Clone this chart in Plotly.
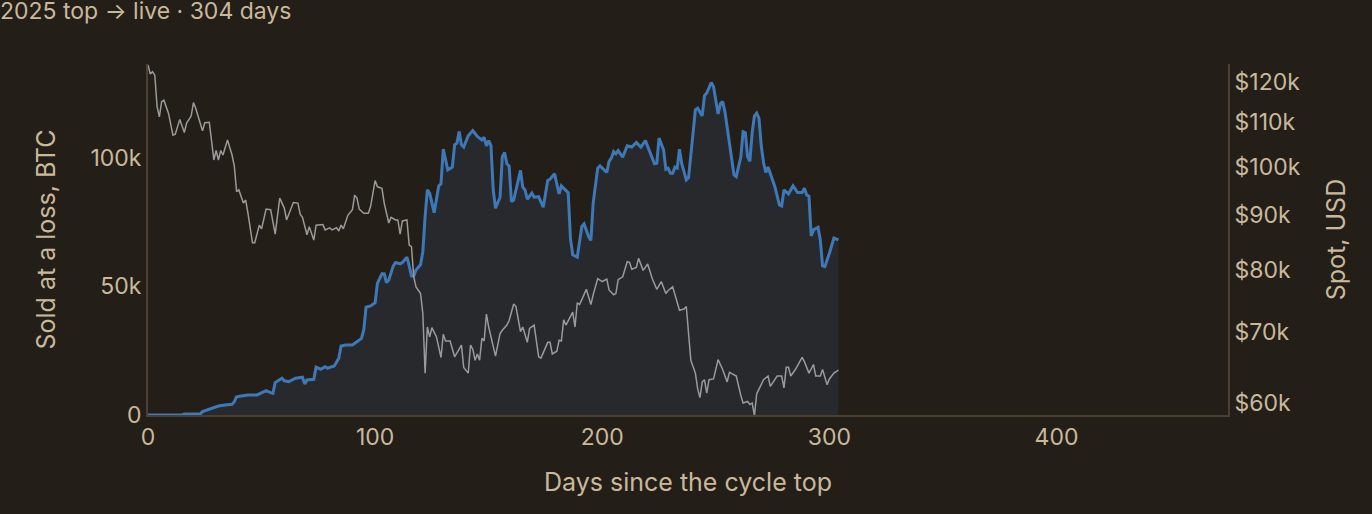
import plotly.graph_objs as go

# Days since the cycle top and BTC sold at a loss (thousands)
loss_days = [0, 15, 16, 23, 24, 27, 29, 31, 34, 37, 38, 39, 41, 44, 48, 50, 52, 54, 55, 56,
             58, 59, 60, 62, 64, 65, 68, 69, 70, 73, 74, 76, 78, 79, 82, 84, 85, 87, 90, 92,
             94, 95, 96, 98, 100, 101, 103, 104, 105, 106, 108, 109, 111, 112, 114, 115, 116, 117, 118, 120,
             121, 122, 123, 124, 126, 128, 129, 130, 132, 134, 135, 136, 137, 138, 139, 141, 143, 145, 147, 148,
             149, 150, 151, 152, 153, 155, 156, 157, 158, 159, 160, 161, 164, 165, 166, 167, 169, 170, 172, 174,
             176, 177, 179, 181, 182, 185, 186, 187, 189, 191, 192, 194, 195, 196, 198, 199, 202, 203, 204, 205,
             206, 207, 209, 211, 213, 215, 217, 219, 221, 223, 224, 225, 227, 228, 229, 230, 231, 232, 233, 234,
             235, 237, 238, 240, 241, 242, 244, 245, 246, 248, 249, 251, 252, 253, 254, 258, 259, 261, 262, 263,
             264, 265, 266, 267, 268, 269, 270, 271, 272, 273, 276, 278, 279, 280, 282, 284, 286, 288, 289, 290,
             291, 292, 293, 295, 296, 297, 298, 300, 302, 304]
loss_k = [0, 0, 0.4, 0.4, 1.3, 2.2, 2.9, 3.5, 3.9, 4.2, 5.2, 7.1, 7.4, 7.8, 7.8, 8.7, 9.5, 8.7, 8.4, 12.6,
          13.6, 14.3, 13.3, 13.0, 13.9, 14.3, 14.7, 12.1, 13.6, 13.9, 18.6, 17.8, 18.8, 18.2, 19.1, 22.1, 26.8, 27.2, 27.2, 28.5,
          29.8, 33.1, 41.9, 42.4, 43.7, 51.2, 54.9, 54.9, 51.5, 52.5, 58.0, 59.3, 58.8, 59.3, 61.4, 58.0, 54.1, 54.1, 56.4, 58.5,
          63.5, 77.2, 87.5, 86.3, 78.7, 89.1, 89.9, 103.4, 95.3, 96.4, 105.1, 105.7, 110.2, 105.1, 104.2, 108.6, 110.6, 108.3, 107.0, 108.0,
          104.7, 106.7, 104.7, 87.5, 80.4, 84.7, 100.5, 102.1, 97.7, 96.8, 83.0, 83.6, 95.1, 88.6, 87.5, 83.9, 86.3, 84.7, 84.9, 80.8,
          91.2, 91.7, 93.8, 86.0, 89.1, 86.5, 68.7, 62.3, 61.4, 73.3, 74.3, 69.4, 67.9, 82.4, 96.0, 96.9, 94.3, 98.6, 99.9, 102.5,
          101.6, 102.8, 100.3, 104.7, 104.2, 106.0, 104.2, 106.7, 102.1, 97.7, 97.9, 107.7, 103.1, 95.6, 96.0, 94.0, 94.0, 96.4, 96.0, 103.4,
          97.7, 91.4, 92.3, 109.0, 118.7, 119.3, 116.3, 124.1, 125.2, 129.3, 127.7, 117.1, 121.0, 121.9, 118.0, 93.4, 92.7, 100.3, 110.2, 109.8,
          100.5, 98.6, 109.8, 116.3, 117.4, 115.4, 104.7, 98.2, 94.3, 96.4, 88.8, 81.7, 81.3, 87.5, 86.0, 89.1, 86.5, 86.5, 88.2, 85.6,
          85.1, 69.6, 72.0, 73.0, 68.1, 58.0, 57.7, 62.9, 68.8, 68.1]

# Spot price, thousands of USD
spot_days = [0, 1, 2, 3, 4, 5, 6, 7, 9, 11, 12, 14, 16, 17, 19, 20, 21, 24, 25, 27,
             29, 30, 31, 32, 33, 35, 37, 38, 39, 40, 42, 43, 44, 46, 47, 49, 50, 52, 54, 56,
             58, 60, 61, 64, 66, 67, 68, 70, 71, 73, 74, 77, 78, 80, 81, 83, 84, 85, 86, 88,
             90, 91, 92, 93, 95, 97, 98, 99, 100, 101, 103, 104, 106, 107, 109, 110, 111, 112, 114, 115,
             116, 117, 118, 120, 121, 122, 123, 124, 125, 127, 129, 130, 131, 133, 135, 138, 139, 141, 142, 143,
             144, 145, 146, 147, 148, 149, 150, 153, 155, 156, 158, 159, 161, 162, 164, 165, 167, 168, 170, 172,
             173, 176, 177, 178, 180, 181, 182, 183, 184, 187, 188, 189, 190, 191, 193, 195, 196, 198, 200, 202,
             203, 205, 206, 207, 209, 211, 212, 213, 215, 216, 218, 220, 222, 224, 226, 228, 229, 231, 234, 236,
             237, 239, 241, 242, 243, 244, 245, 246, 247, 249, 251, 253, 255, 256, 258, 259, 261, 262, 264, 265,
             266, 267, 268, 270, 271, 273, 274, 277, 279, 280, 281, 282, 283, 285, 286, 288, 289, 291, 293, 294,
             296, 297, 299, 300, 302, 304]
spot_k = [124.5, 122.1, 122.7, 121.8, 113.8, 111.3, 115.0, 115.4, 112.2, 107.0, 107.2, 110.7, 107.6, 109.8, 111.5, 114.8, 113.4, 108.0, 109.9, 110.0,
          101.4, 103.5, 101.4, 103.5, 102.5, 105.9, 102.5, 100.1, 94.7, 95.1, 92.4, 93.0, 90.4, 84.8, 84.8, 88.1, 87.4, 91.2, 91.1, 86.4,
          93.4, 91.4, 89.1, 92.5, 92.4, 90.2, 89.6, 86.3, 87.8, 85.3, 88.1, 88.2, 87.2, 87.6, 87.2, 87.6, 87.0, 88.1, 87.4, 90.0,
          91.1, 94.0, 93.4, 91.2, 90.4, 90.4, 91.7, 94.4, 97.0, 95.7, 95.4, 92.4, 88.5, 89.6, 89.1, 89.1, 86.4, 88.9, 89.1, 84.4,
          84.1, 78.8, 77.1, 76.0, 72.8, 64.0, 70.7, 69.2, 70.6, 69.2, 66.2, 69.6, 68.6, 68.6, 66.3, 68.0, 64.8, 64.0, 68.0, 67.4,
          65.8, 66.7, 65.8, 69.0, 68.6, 72.7, 70.7, 66.4, 69.7, 70.2, 71.0, 71.7, 74.3, 73.9, 70.0, 70.7, 68.4, 70.5, 71.0, 66.3,
          66.1, 68.4, 68.4, 66.7, 67.1, 68.7, 68.6, 71.8, 71.0, 73.0, 70.7, 74.5, 74.2, 75.0, 76.7, 74.2, 75.8, 78.5, 78.0, 78.4,
          76.6, 75.8, 76.0, 78.3, 78.8, 81.4, 81.3, 80.1, 80.4, 82.0, 79.9, 81.0, 78.5, 76.7, 78.0, 76.0, 76.5, 77.1, 73.3, 73.5,
          73.9, 65.8, 64.0, 61.9, 60.7, 62.8, 63.1, 61.3, 63.1, 63.2, 65.9, 64.5, 62.8, 64.1, 63.7, 63.6, 61.0, 60.0, 60.2, 59.8,
          60.0, 58.4, 61.2, 62.4, 63.1, 63.6, 62.2, 63.6, 63.6, 62.0, 64.8, 64.8, 63.6, 64.5, 65.0, 66.2, 65.6, 64.0, 65.2, 63.6,
          63.6, 64.5, 62.4, 63.2, 64.0, 64.4]

left_ticks = [0, 50, 100]
left_labels = ["0", "50k", "100k"]
spot_ticks = [60, 70, 80, 90, 100, 110, 120]
spot_labels = ["$60k", "$70k", "$80k", "$90k", "$100k", "$110k", "$120k"]

bg_color = "#241e19"
text_color = "#c9b99b"
axis_color = "#4a3f31"
font_family = "Inter, 'Liberation Sans', sans-serif"
tick_font = dict(size=23)

loss_trace = go.Scatter(
    x=loss_days, y=loss_k, mode="lines",
    line=dict(color="#3d79b8", width=3),
    fill="tozeroy", fillcolor="#28292d",
    hoverinfo="skip", showlegend=False,
)
spot_trace = go.Scatter(
    x=spot_days, y=spot_k, mode="lines", yaxis="y2",
    line=dict(color="#9a9a9a", width=1.5),
    hoverinfo="skip", showlegend=False,
)

layout = go.Layout(
    width=1372, height=514,
    paper_bgcolor=bg_color,
    plot_bgcolor=bg_color,
    font=dict(family=font_family, color=text_color, size=21),
    title=dict(
        text="2025 top \u2192 live \u00b7 304 days",
        x=0, xref="container", xanchor="left",
        y=1, yref="container", yanchor="top",
        pad=dict(l=0, t=3),
        font=dict(size=23, color=text_color),
    ),
    xaxis=dict(
        range=[0, 475.5],
        tickvals=[0, 100, 200, 300, 400],
        tickfont=tick_font,
        showgrid=False, zeroline=False,
        showline=True, linecolor=axis_color, linewidth=2,
        ticks="", ticklen=0,
        title=dict(text="Days since the cycle top", standoff=24),
    ),
    yaxis=dict(
        range=[0, 136.5],
        tickvals=left_ticks, ticktext=left_labels,
        tickfont=tick_font,
        showgrid=False, zeroline=False,
        showline=True, linecolor=axis_color, linewidth=2,
        ticks="", ticklen=0,
        title=dict(text="Sold at a loss, BTC", standoff=28),
    ),
    yaxis2=dict(
        type="log",
        range=[1.7669, 2.0961],
        overlaying="y", side="right",
        tickvals=spot_ticks, ticktext=spot_labels,
        tickfont=tick_font,
        showgrid=False, zeroline=False,
        showline=True, linecolor=axis_color, linewidth=2,
        ticks="", ticklen=0,
        title=dict(text="Spot, USD", standoff=28),
    ),
    margin=dict(l=148, r=144, t=64, b=99, pad=0),
)

fig = go.Figure(data=[loss_trace, spot_trace], layout=layout)
fig.write_html(
    "out.html",
    config={"displayModeBar": False},
    post_script="document.body.style.margin='0';document.body.style.padding='0';",
)
